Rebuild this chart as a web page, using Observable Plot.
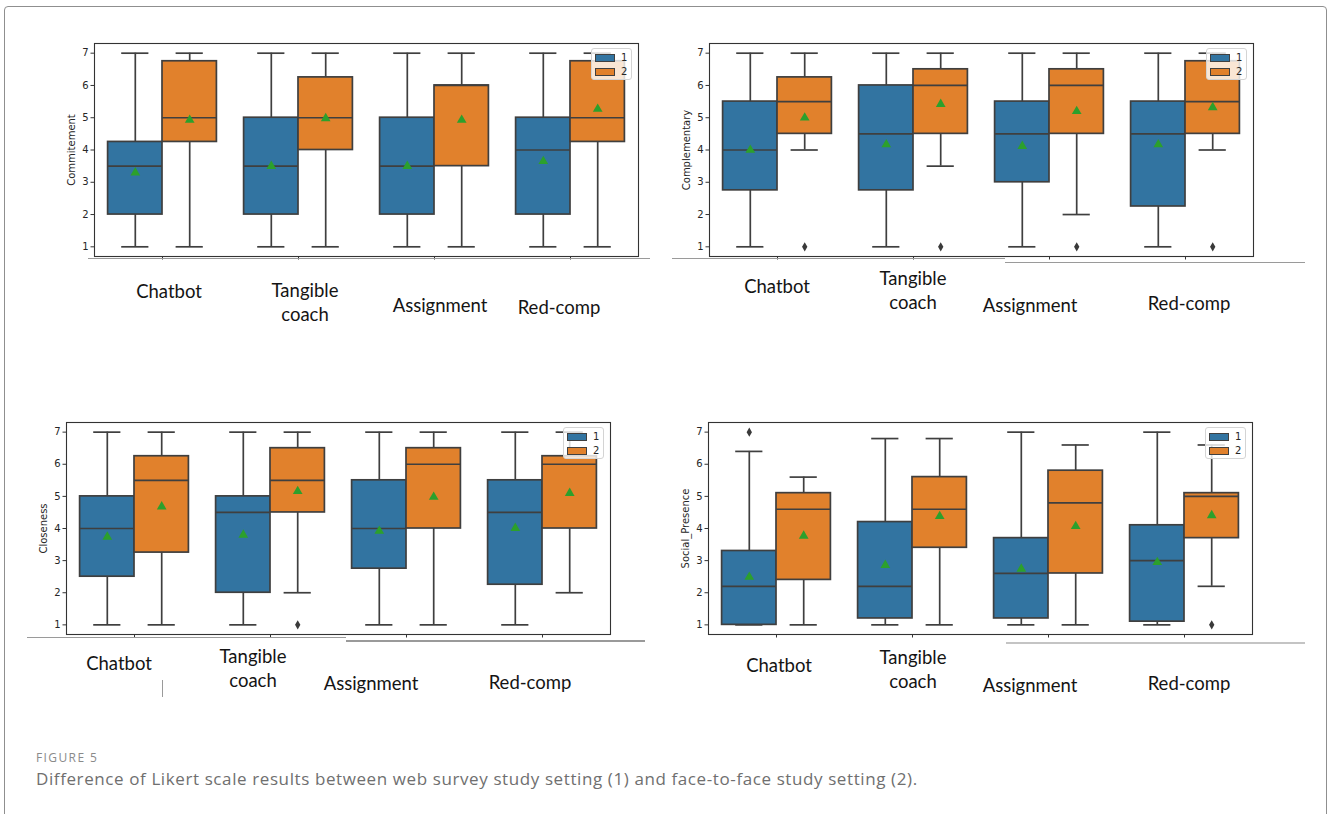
<!DOCTYPE html>
<html>
<head>
<meta charset="utf-8">
<script src="https://cdn.jsdelivr.net/npm/d3@7"></script>
<script src="https://cdn.jsdelivr.net/npm/@observablehq/plot@0.6"></script>
<style>
  html, body { margin: 0; padding: 0; background: #fff; }
  body { width: 1328px; height: 814px; overflow: hidden; position: relative; }
  #page { position: absolute; left: 0; top: 0; width: 1328px; height: 814px; }
  .outer { position: absolute; left: 4px; top: 6px; width: 1321px; height: 900px; border: 1.5px solid #8f8f8f; border-radius: 4px; }
  .panel { position: absolute; }
  .cat { position: absolute; font-family: Lato, "Open Sans", sans-serif; font-size: 18.5px; color: #141414; text-align: center; white-space: nowrap; line-height: 24px; transform: translate(-50%, -50%); }
  .legend { position: absolute; width: 41px; height: 32px; background: rgba(255,255,255,0.8); border: 1px solid #d4d4d4; border-radius: 3px; box-sizing: border-box; font-family: "DejaVu Sans", sans-serif; font-size: 10px; color: #262626; }
  .legend .it { position: absolute; left: 3px; height: 8px; width: 20px; box-sizing: border-box; border: 1px solid #404040; }
  .legend .lb { position: absolute; left: 29px; line-height: 10px; }
  .hl { position: absolute; background: #9a9a9a; }
  .cap1 { position: absolute; left: 36px; top: 749px; font-family: "Open Sans", sans-serif; font-size: 12px; color: #8a8a8a; letter-spacing: 1.4px; }
  .cap2 { position: absolute; left: 36px; top: 767px; font-family: "Open Sans", sans-serif; font-size: 17px; color: #6f6f6f; letter-spacing: 0.6px; white-space: nowrap; }
</style>
</head>
<body>
<div id="page"><div class="outer"></div></div>
<script>
// ---------------- data ----------------
const categories = ["Chatbot", "Tangible coach", "Assignment", "Red-comp"];
const groups = ["1", "2"];
const yTicks = [1, 2, 3, 4, 5, 6, 7];
const categoryLabels = [["Chatbot"], ["Tangible", "coach"], ["Assignment"], ["Red-comp"]];

// stats per category: [lower whisker, Q1, median, Q3, upper whisker]
const commitment1 = [[1, 2, 3.5, 4.25, 7], [1, 2, 3.5, 5, 7], [1, 2, 3.5, 5, 7], [1, 2, 4, 5, 7]];
const commitment2 = [[1, 4.25, 5, 6.75, 7], [1, 4, 5, 6.25, 7], [1, 3.5, 6, 6, 7], [1, 4.25, 5, 6.75, 7]];
const commitment1Mean = [3.3, 3.5, 3.5, 3.65];
const commitment2Mean = [4.93, 4.98, 4.93, 5.27];
const commitment1Out = [[], [], [], []];
const commitment2Out = [[], [], [], []];

const complementary1 = [[1, 2.75, 4, 5.5, 7], [1, 2.75, 4.5, 6, 7], [1, 3, 4.5, 5.5, 7], [1, 2.25, 4.5, 5.5, 7]];
const complementary2 = [[4, 4.5, 5.5, 6.25, 7], [3.5, 4.5, 6, 6.5, 7], [2, 4.5, 6, 6.5, 7], [4, 4.5, 5.5, 6.75, 7]];
const complementary1Mean = [4.0, 4.17, 4.12, 4.17];
const complementary2Mean = [5.0, 5.42, 5.2, 5.32];
const complementary1Out = [[], [], [], []];
const complementary2Out = [[1], [1], [1], [1]];

const closeness1 = [[1, 2.5, 4, 5, 7], [1, 2, 4.5, 5, 7], [1, 2.75, 4, 5.5, 7], [1, 2.25, 4.5, 5.5, 7]];
const closeness2 = [[1, 3.25, 5.5, 6.25, 7], [2, 4.5, 5.5, 6.5, 7], [1, 4, 6, 6.5, 7], [2, 4, 6, 6.25, 7]];
const closeness1Mean = [3.74, 3.8, 3.92, 4.01];
const closeness2Mean = [4.68, 5.16, 4.98, 5.1];
const closeness1Out = [[], [], [], []];
const closeness2Out = [[], [1], [], []];

const social1 = [[1, 1, 2.2, 3.3, 6.4], [1, 1.2, 2.2, 4.2, 6.8], [1, 1.2, 2.6, 3.7, 7], [1, 1.1, 3.0, 4.1, 7]];
const social2 = [[1, 2.4, 4.6, 5.1, 5.6], [1, 3.4, 4.6, 5.6, 6.8], [1, 2.6, 4.8, 5.8, 6.6], [2.2, 3.7, 5.0, 5.1, 6.6]];
const social1Mean = [2.49, 2.86, 2.74, 2.95];
const social2Mean = [3.77, 4.38, 4.07, 4.41];
const social1Out = [[7], [], [], []];
const social2Out = [[], [], [], [1]];

// ---------------- layout / style ----------------
const BLUE = "#3274a1", ORANGE = "#e1812c", EDGE = "#3f3f3f", GREEN = "#2ca02c";
const panels = [
  { yLabel: "Commitement", s1: commitment1, s2: commitment2, m1: commitment1Mean, m2: commitment2Mean, o1: commitment1Out, o2: commitment2Out,
    frame: { x0: 94, x1: 638, y0: 43, y1: 256 },
    labels: [[169, 291], [305, 302], [440, 305], [559, 307]] },
  { yLabel: "Complementary", s1: complementary1, s2: complementary2, m1: complementary1Mean, m2: complementary2Mean, o1: complementary1Out, o2: complementary2Out,
    frame: { x0: 709, x1: 1253, y0: 43, y1: 256 },
    labels: [[777, 286], [913, 290], [1030, 305], [1189, 303]] },
  { yLabel: "Closeness", s1: closeness1, s2: closeness2, m1: closeness1Mean, m2: closeness2Mean, o1: closeness1Out, o2: closeness2Out,
    frame: { x0: 66, x1: 610, y0: 422, y1: 634 },
    labels: [[119, 663], [253, 668], [371, 683], [530, 682]] },
  { yLabel: "Social_Presence", s1: social1, s2: social2, m1: social1Mean, m2: social2Mean, o1: social1Out, o2: social2Out,
    frame: { x0: 708, x1: 1252, y0: 422, y1: 634 },
    labels: [[779, 665], [913, 669], [1030, 685], [1189, 683]] }
];

function boxRows(stats, means) {
  return categories.map((cat, i) => ({ cat, lo: stats[i][0], q1: stats[i][1], med: stats[i][2], q3: stats[i][3], hi: stats[i][4], mean: means[i] }));
}
function outlierRows(outs) {
  return categories.flatMap((cat, i) => outs[i].map(v => ({ cat, v })));
}

function groupMarks(rows, outs, sp) {
  const line = { stroke: EDGE, strokeWidth: 1.7 };
  return [
    Plot.ruleX(rows, { x: "cat", y1: "lo", y2: "q1", dx: sp.dx, ...line }),
    Plot.ruleX(rows, { x: "cat", y1: "q3", y2: "hi", dx: sp.dx, ...line }),
    Plot.tickY(rows, { x: "cat", y: "lo", insetLeft: sp.capL, insetRight: sp.capR, ...line }),
    Plot.tickY(rows, { x: "cat", y: "hi", insetLeft: sp.capL, insetRight: sp.capR, ...line }),
    Plot.barY(rows, { x: "cat", y1: "q1", y2: "q3", fill: sp.fill, insetLeft: sp.boxL, insetRight: sp.boxR, ...line }),
    Plot.tickY(rows, { x: "cat", y: "med", insetLeft: sp.boxL, insetRight: sp.boxR, ...line }),
    Plot.dot(rows, { x: "cat", y: "mean", dx: sp.dx, symbol: "triangle", fill: GREEN, r: 3.6 }),
    Plot.dot(outs, { x: "cat", y: "v", dx: sp.dx, symbol: "diamond", fill: "#3a3a3a", r: 2.8 })
  ];
}

const page = document.getElementById("page");

panels.forEach(p => {
  const f = p.frame;
  const ml = 70, mr = 10, mt = 10, mb = 10;
  const plotW = f.x1 - f.x0, plotH = f.y1 - f.y0;
  const bw = plotW / categories.length;
  const specBlue = { fill: BLUE, dx: -0.2 * bw, boxL: 0.1 * bw, boxR: 0.5 * bw, capL: 0.2 * bw, capR: 0.6 * bw };
  const specOrange = { fill: ORANGE, dx: 0.2 * bw, boxL: 0.5 * bw, boxR: 0.1 * bw, capL: 0.6 * bw, capR: 0.2 * bw };

  const chart = Plot.plot({
    width: ml + plotW + mr,
    height: mt + plotH + mb,
    marginLeft: ml, marginRight: mr, marginTop: mt, marginBottom: mb,
    style: { fontFamily: "'DejaVu Sans', sans-serif", fontSize: "10px", color: "#262626", background: "transparent", overflow: "visible" },
    x: { type: "band", domain: categories, padding: 0 },
    y: { domain: [0.7, 7.3] },
    marks: [
      ...groupMarks(boxRows(p.s1, p.m1), outlierRows(p.o1), specBlue),
      ...groupMarks(boxRows(p.s2, p.m2), outlierRows(p.o2), specOrange),
      Plot.frame({ stroke: "#333", strokeWidth: 1.1 }),
      Plot.axisY({ ticks: yTicks, tickFormat: d3.format("d"), tickSize: 3.5, tickPadding: 2.5, fontSize: 10, label: null, stroke: "#333" }),
      Plot.axisX({ tickSize: 3.5, tickFormat: () => "", label: null, stroke: "#333" }),
      Plot.text([p.yLabel], { frameAnchor: "left", text: d => d, textAnchor: "middle", rotate: -90, dx: -23, fontSize: 10, fill: "#262626" })
    ]
  });
  chart.classList.add("panel");
  chart.style.left = (f.x0 - ml) + "px";
  chart.style.top = (f.y0 - mt) + "px";
  page.appendChild(chart);

  // legend (top-right inside the axes)
  const lg = document.createElement("div");
  lg.className = "legend";
  lg.style.left = (f.x1 - 6 - 41) + "px";
  lg.style.top = (f.y0 + 5) + "px";
  [BLUE, ORANGE].forEach((c, i) => {
    const it = document.createElement("div");
    it.className = "it"; it.style.background = c; it.style.top = (5 + i * 14) + "px";
    lg.appendChild(it);
    const lb = document.createElement("div");
    lb.className = "lb"; lb.textContent = groups[i]; lb.style.top = (4 + i * 14) + "px";
    lg.appendChild(lb);
  });
  page.appendChild(lg);

  // category text boxes below the axes
  categoryLabels.forEach((lines, i) => {
    const d = document.createElement("div");
    d.className = "cat";
    d.innerHTML = lines.join("<br>");
    d.style.left = p.labels[i][0] + "px";
    d.style.top = p.labels[i][1] + "px";
    page.appendChild(d);
  });
});

// stray line fragments from the pasted figure
[[88, 258, 562, 1.2], [672, 258, 333, 1.2], [1005, 262, 300, 1.2], [27, 637, 319, 1.2], [346, 640, 299, 2], [1006, 642, 299, 2]].forEach(([x, y, w, h], i) => {
  const d = document.createElement("div");
  d.className = "hl";
  d.style.left = x + "px"; d.style.top = y + "px"; d.style.width = w + "px"; d.style.height = h + "px";
  if (i === 5) d.style.background = "#c4c4c4";
  page.appendChild(d);
});
const vl = document.createElement("div");
vl.className = "hl"; vl.style.left = "162px"; vl.style.top = "680px"; vl.style.width = "1px"; vl.style.height = "17px";
page.appendChild(vl);

const c1 = document.createElement("div"); c1.className = "cap1"; c1.textContent = "FIGURE 5"; page.appendChild(c1);
const c2 = document.createElement("div"); c2.className = "cap2"; c2.textContent = "Difference of Likert scale results between web survey study setting (1) and face-to-face study setting (2)."; page.appendChild(c2);
</script>
</body>
</html>
